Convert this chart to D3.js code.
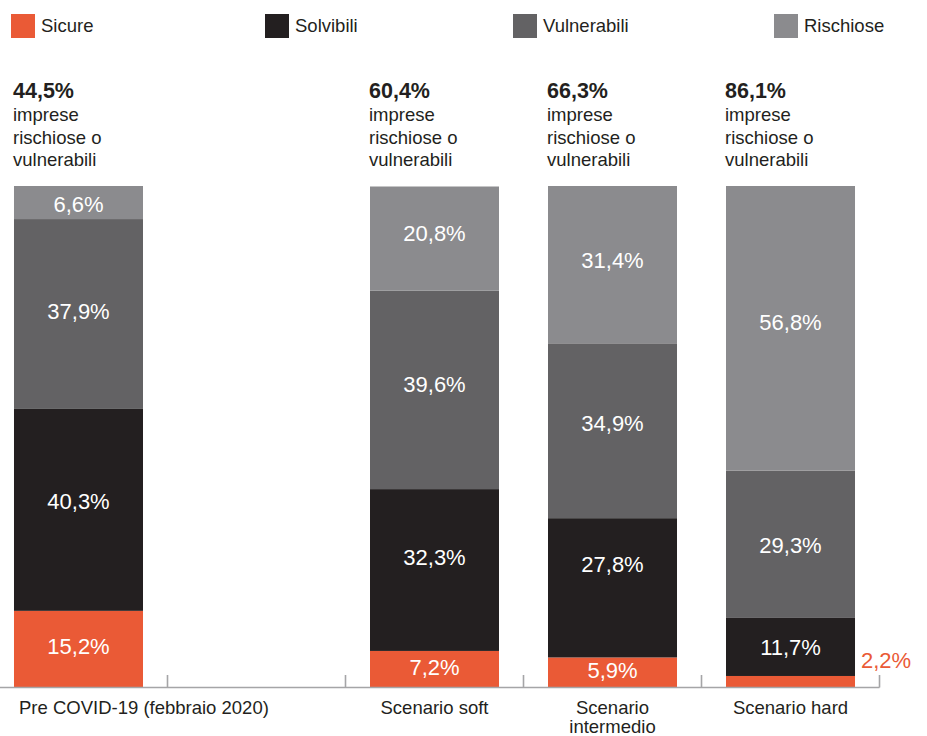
<!DOCTYPE html>
<html>
<head>
<meta charset="utf-8">
<script src="https://cdn.jsdelivr.net/npm/d3@7/dist/d3.min.js"></script>
<style>
  html, body { margin: 0; padding: 0; background: #ffffff; }
  svg { display: block; font-family: "Liberation Sans", Arial, Helvetica, sans-serif; }
</style>
</head>
<body>
<svg id="chart" width="927" height="736"></svg>
<script>
// Scenarios (bars) and the label lines printed under each one
const scenarios = ["pre", "soft", "intermedio", "hard"];
const scenarioLabels = [
  ["Pre COVID-19 (febbraio 2020)"],
  ["Scenario soft"],
  ["Scenario", "intermedio"],
  ["Scenario hard"]
];
// Band slots: an empty slot separates the pre-COVID bar from the scenarios
const slots = ["pre", "vuoto", "soft", "intermedio", "hard"];

// Stack series, bottom to top
const series = ["Sicure", "Solvibili", "Vulnerabili", "Rischiose"];
const sicure      = [15.2, 7.2, 5.9, 2.2];
const solvibili   = [40.3, 32.3, 27.8, 11.7];
const vulnerabili = [37.9, 39.6, 34.9, 29.3];
const rischiose   = [6.6, 20.8, 31.4, 56.8];

const colors = ["#ea5a36", "#231f20", "#636264", "#8b8b8e"];
const textColor = "#231f20";
const legendX = [11, 265, 513, 774];
// Vertical nudges (px) of the value labels inside each segment, per series and bar
const labelNudge = [
  [-3, -2, -2, 0],
  [-9, -13, -24, 0],
  [-3, -6, -8, 1],
  [1, -6, -5, -6]
];

const it = d3.formatLocale({ decimal: ",", thousands: ".", grouping: [3], currency: ["", "€"] });
const pct = v => it.format(".1f")(v) + "%";

const rows = scenarios.map((s, i) => ({
  key: s,
  idx: i,
  Sicure: sicure[i],
  Solvibili: solvibili[i],
  Vulnerabili: vulnerabili[i],
  Rischiose: rischiose[i]
}));

const svg = d3.select("#chart");

const x = d3.scaleBand()
  .domain(slots)
  .range([-10.5, 879.5])
  .paddingInner(0.2753)
  .paddingOuter(0.1376);

const y = d3.scaleLinear().domain([0, 100]).range([687, 186]);

const stack = d3.stack().keys(series)(rows);

// Legend
const legend = svg.append("g").selectAll("g")
  .data(series)
  .join("g")
  .attr("transform", (d, i) => `translate(${legendX[i]},14)`);
legend.append("rect")
  .attr("width", 24).attr("height", 24)
  .attr("fill", (d, i) => colors[i]);
legend.append("text")
  .attr("x", 30).attr("y", 17.5)
  .attr("font-size", 18.5)
  .attr("fill", textColor)
  .text(d => d);

// Stacked bars
const layers = svg.append("g").selectAll("g")
  .data(stack)
  .join("g")
  .attr("fill", (d, i) => colors[i]);

layers.selectAll("rect")
  .data(d => d)
  .join("rect")
  .attr("x", d => x(d.data.key))
  .attr("width", x.bandwidth())
  .attr("y", d => y(d[1]))
  .attr("height", d => y(d[0]) - y(d[1]));

// Axis line with tick marks at the band boundaries
const gap = x.step() * x.paddingInner();
svg.append("line")
  .attr("x1", 0).attr("x2", x("hard") + x.bandwidth() + gap / 2)
  .attr("y1", 687.5).attr("y2", 687.5)
  .attr("stroke", "#a5a5a7").attr("stroke-width", 1.6);
svg.append("g").selectAll("line")
  .data(slots)
  .join("line")
  .attr("x1", d => x(d) + x.bandwidth() + gap / 2)
  .attr("x2", d => x(d) + x.bandwidth() + gap / 2)
  .attr("y1", 675).attr("y2", 687.5)
  .attr("stroke", "#a5a5a7").attr("stroke-width", 1.6);

// Segment value labels
stack.forEach((layer, li) => {
  svg.append("g").selectAll("text")
    .data(layer)
    .join("text")
    .each(function (d) {
      const h = y(d[0]) - y(d[1]);
      const v = d[1] - d[0];
      const t = d3.select(this).attr("font-size", 22).text(pct(v));
      if (h < 20) {
        t.attr("x", x(d.data.key) + x.bandwidth() + 6)
          .attr("y", y(d[1]) - 8)
          .attr("text-anchor", "start")
          .attr("fill", colors[li]);
      } else {
        t.attr("x", x(d.data.key) + x.bandwidth() / 2)
          .attr("y", (y(d[0]) + y(d[1])) / 2 + 8 + labelNudge[li][d.data.idx])
          .attr("text-anchor", "middle")
          .attr("fill", "#ffffff");
      }
    });
});

// Headline above each bar: share of risky or vulnerable firms
const heads = svg.append("g").selectAll("g")
  .data(rows)
  .join("g")
  .attr("transform", d => `translate(${x(d.key) - 1},0)`);
heads.append("text")
  .attr("y", 98)
  .attr("font-size", 21.5)
  .attr("font-weight", "bold")
  .attr("fill", textColor)
  .text(d => pct(d.Vulnerabili + d.Rischiose));
heads.append("text")
  .attr("font-size", 18.5)
  .attr("fill", textColor)
  .selectAll("tspan")
  .data(["imprese", "rischiose o", "vulnerabili"])
  .join("tspan")
  .attr("x", 0)
  .attr("y", (d, i) => 121 + i * 22.5)
  .text(d => d);

// Category labels under the axis
svg.append("g").selectAll("text")
  .data(scenarios)
  .join("text")
  .attr("font-size", 18.5)
  .attr("fill", textColor)
  .attr("text-anchor", (d, i) => i === 0 ? "start" : "middle")
  .each(function (d, i) {
    const cx = i === 0 ? x(d) + 5 : x(d) + x.bandwidth() / 2;
    d3.select(this).selectAll("tspan")
      .data(scenarioLabels[i])
      .join("tspan")
      .attr("x", cx)
      .attr("y", (t, j) => 714 + j * 19)
      .text(t => t);
  });
</script>
</body>
</html>
